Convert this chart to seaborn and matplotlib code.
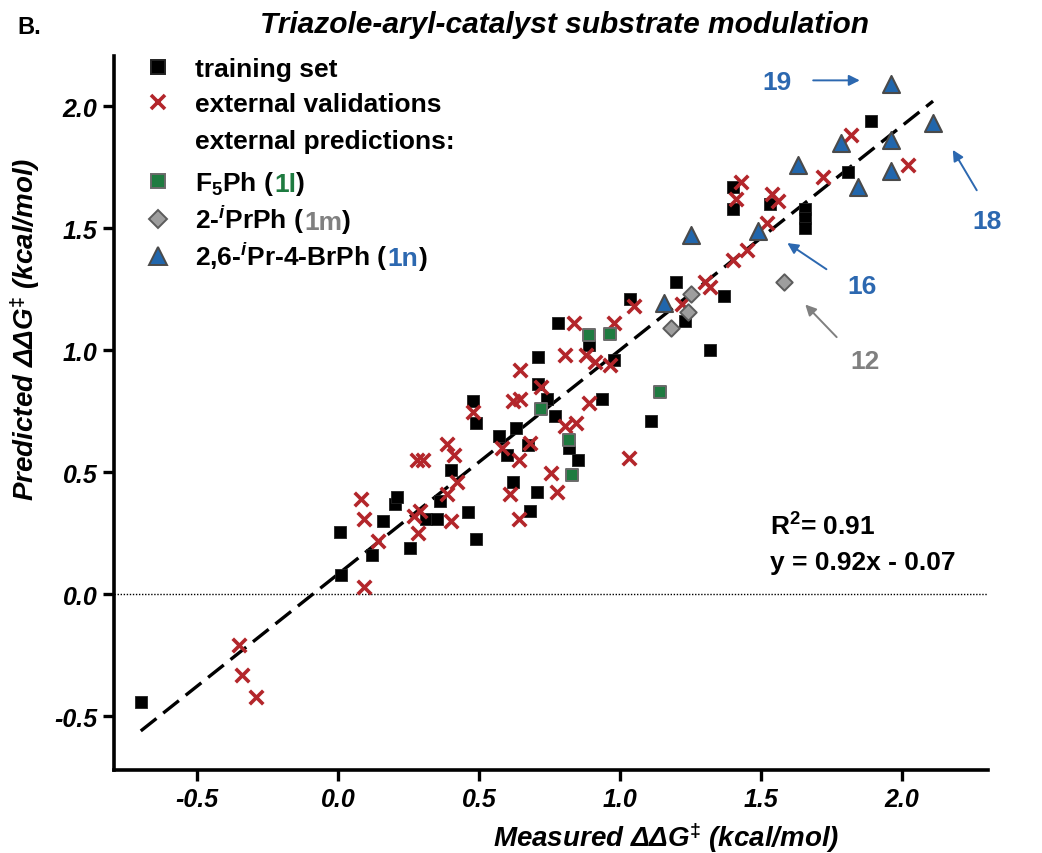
import numpy as np
import pandas as pd
import matplotlib
matplotlib.use("Agg")
import matplotlib.pyplot as plt
import seaborn as sns

# ---- data ----
train_x = [-0.70, 0.01, 0.005, 0.12, 0.16, 0.20, 0.21, 0.255, 0.31, 0.35, 0.36, 0.40, 0.46, 0.49,
           0.48, 0.49, 0.57, 0.60, 0.62, 0.63, 0.675, 0.68, 0.705, 0.71, 0.71, 0.74, 0.77, 0.78,
           0.82, 0.85, 0.89, 0.935, 0.98, 1.035, 1.11, 1.20, 1.23, 1.32, 1.37, 1.40, 1.40, 1.53,
           1.655, 1.655, 1.655, 1.81, 1.89]
train_y = [-0.44, 0.08, 0.255, 0.16, 0.30, 0.37, 0.40, 0.19, 0.31, 0.31, 0.38, 0.51, 0.335, 0.225,
           0.79, 0.70, 0.65, 0.57, 0.46, 0.68, 0.61, 0.34, 0.42, 0.97, 0.86, 0.80, 0.73, 1.11,
           0.60, 0.55, 1.02, 0.80, 0.96, 1.21, 0.71, 1.28, 1.12, 1.00, 1.22, 1.67, 1.58, 1.60,
           1.58, 1.54, 1.50, 1.73, 1.94]

valid_x = [-0.35, -0.34, -0.29, 0.09, 0.08, 0.09, 0.14, 0.27, 0.29, 0.285, 0.28, 0.30, 0.385,
           0.42, 0.385, 0.41, 0.40, 0.48, 0.58, 0.61, 0.62, 0.645, 0.64, 0.645, 0.64, 0.68, 0.72,
           0.755, 0.775, 0.805, 0.805, 0.835, 0.845, 0.88, 0.89, 0.91, 0.965, 0.98, 1.03, 1.05,
           1.22, 1.30, 1.32, 1.40, 1.41, 1.43, 1.45, 1.52, 1.54, 1.56, 1.72, 1.82, 2.02]
valid_y = [-0.21, -0.33, -0.42, 0.03, 0.39, 0.31, 0.22, 0.32, 0.34, 0.25, 0.55, 0.55, 0.41,
           0.46, 0.615, 0.57, 0.30, 0.745, 0.60, 0.41, 0.79, 0.80, 0.31, 0.92, 0.55, 0.62, 0.85,
           0.495, 0.42, 0.98, 0.69, 1.11, 0.70, 0.98, 0.785, 0.95, 0.94, 1.11, 0.56, 1.18,
           1.19, 1.28, 1.26, 1.37, 1.62, 1.69, 1.41, 1.52, 1.64, 1.61, 1.71, 1.88, 1.76]

f5ph_x = [0.72, 0.82, 0.83, 0.89, 0.965, 1.14]
f5ph_y = [0.76, 0.63, 0.49, 1.06, 1.065, 0.83]

iprph_x = [1.18, 1.24, 1.25, 1.58]
iprph_y = [1.09, 1.155, 1.23, 1.28]

brph_x = [1.155, 1.25, 1.49, 1.63, 1.785, 1.845, 1.96, 1.96, 1.96, 2.11]
brph_y = [1.195, 1.47, 1.49, 1.76, 1.85, 1.67, 2.09, 1.86, 1.735, 1.93]

# drawn fit line end points
fit_x = [-0.70, 2.11]
fit_y = [-0.56, 2.02]

x_ticks = [-0.5, 0.0, 0.5, 1.0, 1.5, 2.0]
y_ticks = [-0.5, 0.0, 0.5, 1.0, 1.5, 2.0]

# ---- style ----
sns.set_style("ticks")
plt.rcParams["font.family"] = ["Liberation Sans", "DejaVu Sans"]
plt.rcParams["mathtext.fontset"] = "custom"
plt.rcParams["mathtext.rm"] = "Liberation Sans:bold"
plt.rcParams["mathtext.it"] = "Liberation Sans:italic:bold"
plt.rcParams["mathtext.bf"] = "Liberation Sans:bold"
plt.rcParams["axes.unicode_minus"] = False
for key in ["text.color", "axes.labelcolor", "xtick.color", "ytick.color"]:
    plt.rcParams[key] = "black"

RED = "#b3262b"
GREEN = "#1e7b40"
GREY_FILL = "#9e9e9e"
BLUE = "#2166ac"
ANN_BLUE = "#2c68b0"
ANN_GREY = "#808080"
TXT = 19

fig = plt.figure(figsize=(10.42, 8.54), dpi=100)
ax = fig.add_axes([0.1094, 0.0972, 0.8388, 0.8361])

ax.axhline(0, color="black", lw=1.0, ls=(0, (1, 1.2)), zorder=1)
ax.plot(fit_x, fit_y, color="black", lw=2.4, dashes=(6, 2.6), zorder=2)

train = pd.DataFrame({"x": train_x, "y": train_y})
valid = pd.DataFrame({"x": valid_x, "y": valid_y})
f5 = pd.DataFrame({"x": f5ph_x, "y": f5ph_y})
ip = pd.DataFrame({"x": iprph_x, "y": iprph_y})
br = pd.DataFrame({"x": brph_x, "y": brph_y})

sns.scatterplot(data=train, x="x", y="y", marker="s", s=80, color="black",
                edgecolor="#222222", linewidth=0.6, ax=ax, zorder=3, legend=False)
sns.scatterplot(data=valid, x="x", y="y", marker="x", s=95, color=RED,
                linewidth=2.6, ax=ax, zorder=4, legend=False)
sns.scatterplot(data=f5, x="x", y="y", marker="s", s=85, color=GREEN,
                edgecolor="#6a6a6a", linewidth=1.4, ax=ax, zorder=5, legend=False)
sns.scatterplot(data=ip, x="x", y="y", marker="D", s=70, color=GREY_FILL,
                edgecolor="#5c5c5c", linewidth=1.4, ax=ax, zorder=5, legend=False)
sns.scatterplot(data=br, x="x", y="y", marker="^", s=150, color=BLUE,
                edgecolor="#4a4a4a", linewidth=1.5, ax=ax, zorder=6, legend=False)

ax.set_xlim(-0.795, 2.305)
ax.set_ylim(-0.72, 2.205)
ax.set_xticks(x_ticks, labels=[f"{v:.1f}" for v in x_ticks])
ax.set_yticks(y_ticks, labels=[f"{v:.1f}" for v in y_ticks])
ax.tick_params(width=2.4, length=8, direction="out", labelsize=18, pad=4, color="black")
for lab in ax.get_xticklabels() + ax.get_yticklabels():
    lab.set_fontweight("bold")
    lab.set_fontstyle("italic")
for side in ["top", "right"]:
    ax.spines[side].set_visible(False)
for side in ["left", "bottom"]:
    ax.spines[side].set_linewidth(2.6)
    ax.spines[side].set_color("black")

ax.set_xlabel("Measured ΔΔG$^{‡}$ (kcal/mol)", fontsize=20, fontweight="bold",
              fontstyle="italic", va="center", ha="center")
ax.set_ylabel("Predicted ΔΔG$^{‡}$ (kcal/mol)", fontsize=20, fontweight="bold",
              fontstyle="italic", va="center", ha="center")
ax.xaxis.set_label_coords(0.632, -0.094)
ax.yaxis.set_label_coords(-0.102, 0.618)

fig.text(565 / 1042, 1 - 25 / 854, "Triazole-aryl-catalyst substrate modulation",
         ha="center", va="center", fontsize=21.5, fontweight="bold", fontstyle="italic")
fig.text(17 / 1042, 1 - 27 / 854, "B.", ha="left", va="center", fontsize=17, fontweight="bold")

# fit statistics
ax.text(1.53, 0.28, "R$^{2}$= 0.91", fontsize=TXT, fontweight="bold", va="center")
ax.text(1.53, 0.13, "y = 0.92x - 0.07", fontsize=TXT, fontweight="bold", va="center")

# annotations
ann_kw = dict(fontsize=TXT, fontweight="bold", ha="center", va="center")
ax.text(1.555, 2.10, "19", color=ANN_BLUE, **ann_kw)
ax.annotate("", xy=(1.86, 2.105), xytext=(1.675, 2.105),
            arrowprops=dict(arrowstyle="-|>", color=ANN_BLUE, lw=1.4, mutation_scale=16))
ax.text(2.30, 1.53, "18", color=ANN_BLUE, **ann_kw)
ax.annotate("", xy=(2.175, 1.83), xytext=(2.27, 1.645),
            arrowprops=dict(arrowstyle="-|>", color=ANN_BLUE, lw=1.4, mutation_scale=16))
ax.text(1.857, 1.264, "16", color=ANN_BLUE, **ann_kw)
ax.annotate("", xy=(1.585, 1.445), xytext=(1.74, 1.325),
            arrowprops=dict(arrowstyle="-|>", color=ANN_BLUE, lw=1.4, mutation_scale=16))
ax.text(1.869, 0.956, "12", color=ANN_GREY, **ann_kw)
ax.annotate("", xy=(1.65, 1.195), xytext=(1.775, 1.045),
            arrowprops=dict(arrowstyle="-|>", color=ANN_GREY, lw=1.4, mutation_scale=16))

# ---- hand-built legend with multi-coloured labels ----
leg_rows = [
    ("s", "black", "#222222", 95, [("training set", "black")]),
    ("x", RED, RED, 105, [("external validations", "black")]),
    (None, None, None, 0, [("external predictions:", "black")]),
    ("s", GREEN, "#6a6a6a", 95, [("F$_{5}$Ph (", "black"), ("1l", GREEN), (")", "black")]),
    ("D", GREY_FILL, "#5c5c5c", 75, [("2-$^{i}$PrPh (", "black"), ("1m", ANN_GREY), (")", "black")]),
    ("^", BLUE, "#4a4a4a", 160, [("2,6-$^{i}$Pr-4-BrPh (", "black"), ("1n", ANN_BLUE), (")", "black")]),
]
row_px = [68, 103, 140, 182, 220, 257]
marker_px = 158
text_px = 195
fig.canvas.draw()
renderer = fig.canvas.get_renderer()
for (mk, fc, ec, sz, pieces), ypx in zip(leg_rows, row_px):
    yf = 1 - ypx / 854
    if mk is not None:
        if mk == "x":
            fig.add_artist(plt.Line2D([marker_px / 1042], [yf], marker="x", color=fc,
                                      markersize=np.sqrt(sz), markeredgewidth=2.6,
                                      transform=fig.transFigure))
        else:
            fig.add_artist(plt.Line2D([marker_px / 1042], [yf], marker=mk, color=fc,
                                      markerfacecolor=fc, markeredgecolor=ec,
                                      markersize=np.sqrt(sz), markeredgewidth=1.4,
                                      transform=fig.transFigure))
    xpix = text_px
    for txt, col in pieces:
        t = fig.text(xpix / 1042, yf - 9.5 / 854, txt, color=col, fontsize=TXT,
                     fontweight="bold", ha="left", va="baseline")
        bb = t.get_window_extent(renderer)
        xpix = bb.x1

fig.savefig("out.png", dpi=100)
